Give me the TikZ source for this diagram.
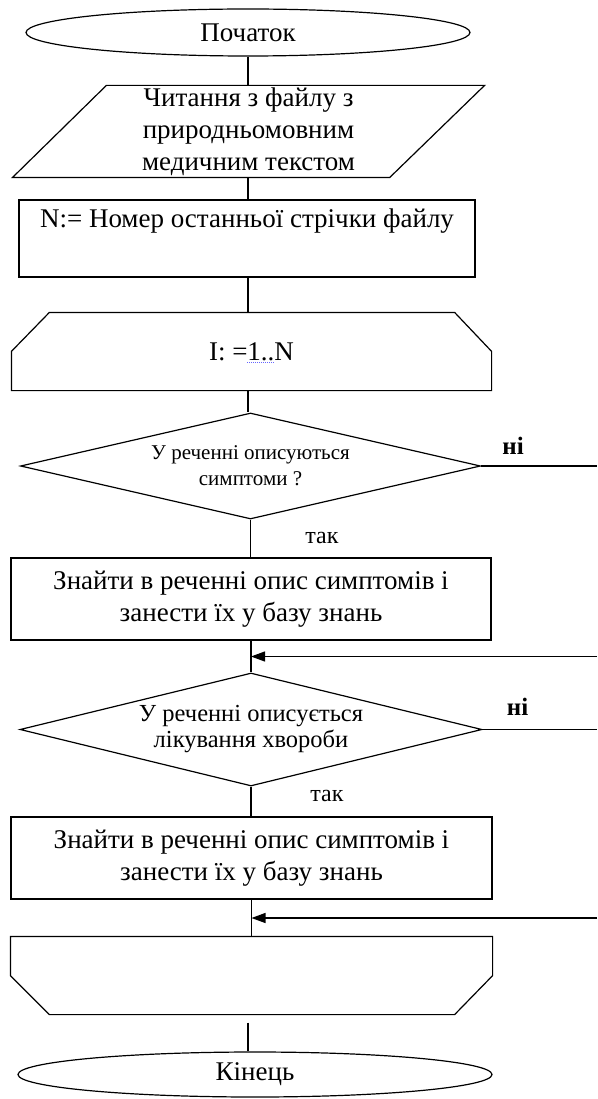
\documentclass[tikz,border=0pt]{standalone}
\usepackage{fontspec}
\setmainfont{Liberation Serif}
\usetikzlibrary{shapes.geometric,arrows.meta,calc}

\tikzset{
  base/.style={line width=1.2pt, inner sep=0pt, align=center, font=\fontsize{27}{32}\selectfont},
  terminal/.style={base, draw, ellipse},
  process/.style={base, draw, rectangle},
  decision/.style={base, draw, diamond},
  holder/.style={base, rectangle},
  flow/.style={line width=1.2pt},
  back/.style={line width=1.2pt, -{Triangle[length=14pt,width=10pt]}},
  answer/.style={font=\fontsize{24}{24}\selectfont},
  noanswer/.style={font=\fontsize{25}{25}\selectfont\bfseries}
}

\begin{document}
\begin{tikzpicture}[x=1pt,y=-1pt]
    \useasboundingbox (0,0) rectangle (597,1099);

    % Start and input
    \node[terminal, minimum width=444pt, minimum height=47pt] (start) at (248,32.5) {Початок};
    \node[holder, minimum width=471pt, minimum height=91pt] (read) at (248.5,131.5)
        {Читання з файлу з\\природньомовним\\медичним текстом};
    \draw[flow] ($(read.north west)+(94,0)$) -- (read.north east)
        -- ($(read.south east)-(95,0)$) -- (read.south west) -- cycle;

    \node[process, minimum width=456pt, minimum height=77pt] (count) at (247,238.5)
        {N:= Номер останньої стрічки файлу\\\strut};

    % Loop begin
    \node[holder, minimum width=479pt, minimum height=77pt] (loopbeg) at (251.5,351.5) {I: =1..N};
    \draw[flow] (loopbeg.south west) -- ($(loopbeg.north west)+(0,39)$)
        -- ($(loopbeg.north west)+(38,0)$) -- ($(loopbeg.north east)-(37,0)$)
        -- ($(loopbeg.north east)+(0,39)$) -- (loopbeg.south east) -- cycle;
    \draw[blue!60, densely dotted, line width=1pt] ($(loopbeg.center)+(-4.5,11)$) -- ++(27,0);

    % Symptoms
    \node[decision, shape aspect=4.3, minimum width=460pt, minimum height=106pt,
        font=\fontsize{21}{26}\selectfont] (symq) at (250.5,466) {У реченні описуються\\симптоми ?};
    \node[process, minimum width=480pt, minimum height=82pt] (symfind) at (251,599)
        {Знайти в реченні опис симптомів і\\занести їх у базу знань};

    % Treatment
    \node[decision, shape aspect=4.1, minimum width=462pt, minimum height=113pt,
        font=\fontsize{24.5}{26}\selectfont] (treatq) at (251,729.5) {У реченні описується\\лікування хвороби};
    \node[process, minimum width=481pt, minimum height=82pt] (treatfind) at (251.5,858)
        {Знайти в реченні опис симптомів і\\занести їх у базу знань};

    % Loop end and stop
    \node[holder, minimum width=481pt, minimum height=77pt] (loopend) at (251.5,975.5) {};
    \draw[flow] (loopend.north west) -- (loopend.north east)
        -- ($(loopend.south east)+(0,-39)$) -- ($(loopend.south east)-(38,0)$)
        -- ($(loopend.south west)+(39,0)$) -- ($(loopend.south west)+(0,-39)$) -- cycle;
    \node[terminal, minimum width=474pt, minimum height=45pt] (stop) at (255,1074.5) {Кінець};

    % Main line
    \draw[flow] (start.south) -- (start.south |- read.north);
    \draw[flow] (read.south -| start) -- (count.north -| start);
    \draw[flow] (count.south -| start) -- (loopbeg.north -| start);
    \draw[flow] (loopbeg.south -| start) -- (symq.north -| start);
    \draw[flow] (symq.south) -- (symq.south |- symfind.north);
    \draw[flow] (symfind.south -| treatq) -- (treatq.north);
    \draw[flow] (treatq.south) -- (treatq.south |- treatfind.north);
    \draw[flow] (treatfind.south) -- (loopend.north -| treatfind);
    \draw[flow, shorten <=8pt] (loopend.south -| start) -- (stop.north -| start);

    % Branches
    \coordinate (join1) at ($(symfind.south)!0.5!(treatq.north)$);
    \coordinate (join2) at ($(treatfind.south)!0.5!(loopend.north)$);
    \coordinate (rim) at (597,0);
    \draw[flow] (symq.east) -- (symq.east -| rim);
    \draw[back] (join1 -| rim) -- (join1);
    \draw[flow] (treatq.east) -- (treatq.east -| rim);
    \draw[back] (join2 -| rim) -- (join2);

    % Labels
    \node[noanswer] (no1) at ($(symq.east)+(32,-20)$) {ні};
    \node[answer] (yes1) at ($(symq.south)+(71.5,18)$) {так};
    \node[noanswer] (no2) at ($(treatq.east)+(35,-22.5)$) {ні};
    \node[answer] (yes2) at ($(treatq.south)+(76,9)$) {так};
\end{tikzpicture}
\end{document}
